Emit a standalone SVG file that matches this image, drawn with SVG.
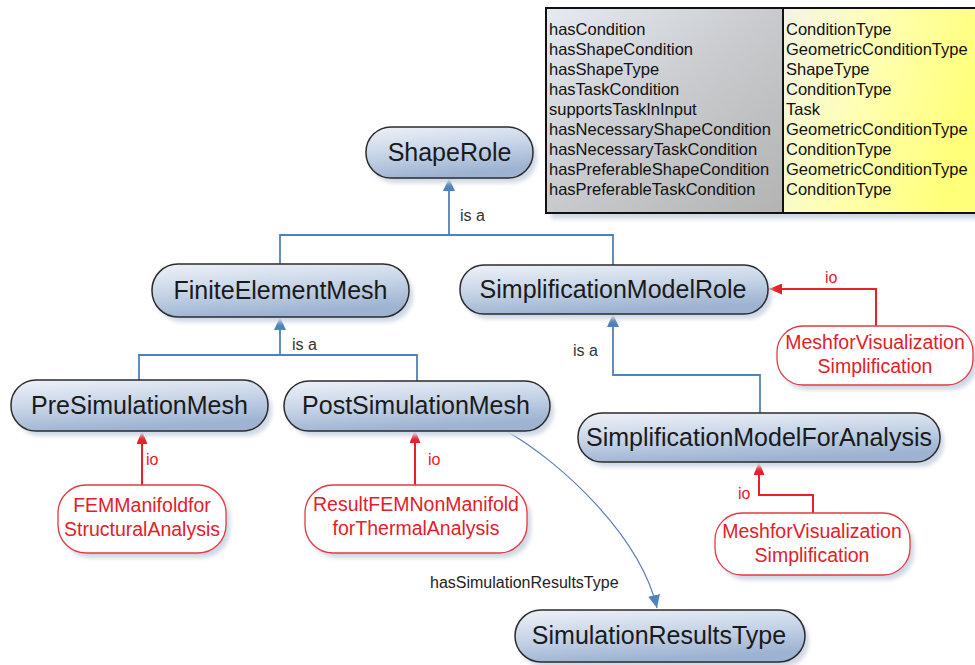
<svg xmlns="http://www.w3.org/2000/svg" width="975" height="665" viewBox="0 0 975 665">
<style>
.node rect.b{fill:url(#ng);stroke:#2b2b2b;stroke-width:1.5}
.node text{font-family:"Liberation Sans",Arial,sans-serif;font-size:25px;fill:#1a1a1a;text-anchor:middle}
.inst rect.b{fill:#ffffff;stroke:#e53a40;stroke-width:1.3}
.inst text{font-family:"Liberation Sans",Arial,sans-serif;font-size:19.5px;fill:#e3202a;text-anchor:middle}
.sh{fill:#cfd8e4;filter:url(#blur)}
.isa{fill:none;stroke:#4f81bd;stroke-width:1.8}
.io{fill:none;stroke:#e8202a;stroke-width:2}
.lbl{font-family:"Liberation Sans",Arial,sans-serif;font-size:16px;fill:#333}
.iol{font-family:"Liberation Sans",Arial,sans-serif;font-size:16px;fill:#e3202a}
.tt{font-family:"Liberation Sans",Arial,sans-serif;font-size:16.5px;fill:#111}
</style>
<defs>
<linearGradient id="ng" x1="0" y1="0" x2="0.3" y2="1">
<stop offset="0" stop-color="#eef2f8"/>
<stop offset="0.5" stop-color="#c9d6e8"/>
<stop offset="1" stop-color="#9db3d1"/>
</linearGradient>
<linearGradient id="lg" x1="0" y1="0" x2="1" y2="1">
<stop offset="0" stop-color="#e6ebf2"/>
<stop offset="0.5" stop-color="#c8cacd"/>
<stop offset="1" stop-color="#b3b3b3"/>
</linearGradient>
<linearGradient id="yg" x1="0" y1="0" x2="1" y2="0.3">
<stop offset="0" stop-color="#f4f4e8"/>
<stop offset="0.5" stop-color="#ffffb0"/>
<stop offset="1" stop-color="#ffff78"/>
</linearGradient>
<filter id="blur" x="-10%" y="-20%" width="120%" height="140%"><feGaussianBlur stdDeviation="2"/></filter>
<marker id="ab" viewBox="0 0 13 12" refX="13" refY="6" markerWidth="13" markerHeight="12" markerUnits="userSpaceOnUse" orient="auto"><path d="M0,0 L13,6 L0,12 Z" fill="#4f81bd"/></marker>
<marker id="ar" viewBox="0 0 13 11" refX="13" refY="5.5" markerWidth="13" markerHeight="11" markerUnits="userSpaceOnUse" orient="auto"><path d="M0,0 L13,5.5 L0,11 Z" fill="#e8202a"/></marker>
</defs>
<rect width="975" height="665" fill="#ffffff"/>

<g id="table">
<rect x="551" y="13" width="430" height="206" class="sh"/>
<rect x="546" y="8" width="237" height="205" fill="url(#lg)"/>
<rect x="783" y="8" width="200" height="205" fill="url(#yg)"/>
<rect x="546" y="8" width="440" height="205" fill="none" stroke="#111" stroke-width="2"/>
<line x1="783" y1="8" x2="783" y2="213" stroke="#111" stroke-width="2"/>
<text class="tt" x="549" y="35">hasCondition<tspan x="549" dy="20">hasShapeCondition</tspan><tspan x="549" dy="20">hasShapeType</tspan><tspan x="549" dy="20">hasTaskCondition</tspan><tspan x="549" dy="20">supportsTaskInInput</tspan><tspan x="549" dy="20">hasNecessaryShapeCondition</tspan><tspan x="549" dy="20">hasNecessaryTaskCondition</tspan><tspan x="549" dy="20">hasPreferableShapeCondition</tspan><tspan x="549" dy="20">hasPreferableTaskCondition</tspan></text>
<text class="tt" x="786" y="35">ConditionType<tspan x="786" dy="20">GeometricConditionType</tspan><tspan x="786" dy="20">ShapeType</tspan><tspan x="786" dy="20">ConditionType</tspan><tspan x="786" dy="20">Task</tspan><tspan x="786" dy="20">GeometricConditionType</tspan><tspan x="786" dy="20">ConditionType</tspan><tspan x="786" dy="20">GeometricConditionType</tspan><tspan x="786" dy="20">ConditionType</tspan></text>
</g>

<g id="connectors">
<path class="isa" d="M280,264 V235 H613 V265"/>
<path class="isa" d="M449,235 V178" marker-end="url(#ab)"/>
<path class="isa" d="M139,380 V355 H417 V381"/>
<path class="isa" d="M280,355 V317" marker-end="url(#ab)"/>
<path class="isa" d="M760,413 V375 H613 V314" marker-end="url(#ab)"/>
<path fill="none" stroke="#5f7fb0" stroke-width="1.2" d="M508,432 C560,462 640,535 657,608" marker-end="url(#ab)"/>
<path class="io" d="M142,485 V431" marker-end="url(#ar)"/>
<path class="io" d="M415,485 V430" marker-end="url(#ar)"/>
<path class="io" d="M876,326 V289 H769" marker-end="url(#ar)"/>
<path class="io" d="M813,513 V495 H759 V462" marker-end="url(#ar)"/>
<text class="lbl" x="460" y="221">is a</text>
<text class="lbl" x="292" y="350">is a</text>
<text class="lbl" x="573" y="356">is a</text>
<text class="iol" x="146" y="465">io</text>
<text class="iol" x="428" y="465">io</text>
<text class="iol" x="825" y="283">io</text>
<text class="iol" x="738" y="499">io</text>
<text class="lbl" x="430" y="588" style="fill:#222">hasSimulationResultsType</text>
</g>

<g id="ShapeRole" class="node">
<rect class="sh" x="370" y="132" width="167" height="51" rx="25"/>
<rect class="b" x="366" y="127" width="167" height="51" rx="25"/>
<text x="449.5" y="161">ShapeRole</text>
</g>
<g id="FiniteElementMesh" class="node">
<rect class="sh" x="156" y="269" width="257" height="53" rx="26"/>
<rect class="b" x="152" y="264" width="257" height="53" rx="26"/>
<text x="280.5" y="299">FiniteElementMesh</text>
</g>
<g id="SimplificationModelRole" class="node">
<rect class="sh" x="464" y="270" width="308" height="49" rx="24"/>
<rect class="b" x="460" y="265" width="308" height="49" rx="24"/>
<text x="613" y="298">SimplificationModelRole</text>
</g>
<g id="PreSimulationMesh" class="node">
<rect class="sh" x="15" y="385" width="257" height="51" rx="25"/>
<rect class="b" x="11" y="380" width="257" height="51" rx="25"/>
<text x="139.5" y="414">PreSimulationMesh</text>
</g>
<g id="PostSimulationMesh" class="node">
<rect class="sh" x="288" y="386" width="266" height="50" rx="25"/>
<rect class="b" x="284" y="381" width="266" height="50" rx="25"/>
<text x="416" y="414">PostSimulationMesh</text>
</g>
<g id="SimplificationModelForAnalysis" class="node">
<rect class="sh" x="582" y="418" width="362" height="49" rx="24"/>
<rect class="b" x="578" y="413" width="362" height="49" rx="24"/>
<text x="759" y="446">SimplificationModelForAnalysis</text>
</g>
<g id="SimulationResultsType" class="node">
<rect class="sh" x="519" y="615" width="290" height="52" rx="26"/>
<rect class="b" x="515" y="610" width="290" height="52" rx="26"/>
<text x="659" y="644">SimulationResultsType</text>
</g>

<g id="FEMManifoldforStructuralAnalysis" class="inst">
<rect class="sh" x="62" y="490" width="168" height="68" rx="28"/>
<rect class="b" x="58" y="485" width="168" height="68" rx="28"/>
<text x="142" y="512">FEMManifoldfor</text>
<text x="142" y="536">StructuralAnalysis</text>
</g>
<g id="ResultFEMNonManifoldforThermalAnalysis" class="inst">
<rect class="sh" x="309" y="490" width="222" height="68" rx="28"/>
<rect class="b" x="305" y="485" width="222" height="68" rx="28"/>
<text x="416" y="511">ResultFEMNonManifold</text>
<text x="416" y="535">forThermalAnalysis</text>
</g>
<g id="MeshforVisualizationSimplification1" class="inst">
<rect class="sh" x="781" y="331" width="196" height="59" rx="26"/>
<rect class="b" x="777" y="326" width="196" height="59" rx="26"/>
<text x="875" y="349">MeshforVisualization</text>
<text x="875" y="373">Simplification</text>
</g>
<g id="MeshforVisualizationSimplification2" class="inst">
<rect class="sh" x="719" y="518" width="195" height="62" rx="27"/>
<rect class="b" x="715" y="513" width="195" height="62" rx="27"/>
<text x="812" y="538">MeshforVisualization</text>
<text x="812" y="562">Simplification</text>
</g>
</svg>
